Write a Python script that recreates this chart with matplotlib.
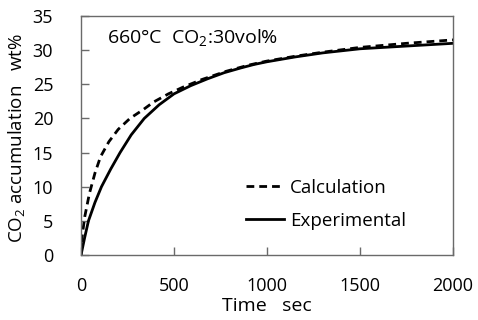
import matplotlib
matplotlib.use("Agg")
import matplotlib.pyplot as plt

# Data
t_exp = [0, 20, 40, 75, 110, 160, 210, 270, 340, 420, 500, 590, 680, 770, 860, 930,
         1000, 1150, 1300, 1500, 1750, 2000]
y_exp = [0, 2.6, 5.0, 7.7, 10.0, 12.6, 15.0, 17.6, 20.0, 22.0, 23.6, 24.8, 25.8, 26.7,
         27.4, 27.9, 28.3, 29.0, 29.6, 30.2, 30.6, 31.0]

t_calc = [0, 5, 20, 45, 75, 105, 150, 200, 263, 335, 390, 470, 550, 650, 780, 900,
          1000, 1150, 1300, 1500, 1750, 2000]
y_calc = [0, 2.5, 5.6, 9.0, 12.0, 14.4, 16.6, 18.4, 20.0, 21.3, 22.4, 23.6, 24.6, 25.7,
          26.9, 27.8, 28.4, 29.1, 29.7, 30.4, 31.0, 31.5]

x_ticks = [0, 500, 1000, 1500, 2000]
y_ticks = [0, 5, 10, 15, 20, 25, 30, 35]

plt.rcParams['font.family'] = ['Open Sans', 'DejaVu Sans']
plt.rcParams['mathtext.fontset'] = 'custom'
plt.rcParams['mathtext.rm'] = 'Open Sans'
plt.rcParams['mathtext.it'] = 'Open Sans'

fig = plt.figure(figsize=(4.78, 3.2), dpi=100)
ax = fig.add_axes([0.1695, 0.2031, 0.7782, 0.7469])

ax.plot(t_calc, y_calc, color='black', lw=2.0, linestyle=(0, (2.8, 1.8)), label='Calculation')
ax.plot(t_exp, y_exp, color='black', lw=2.0, label='Experimental')

ax.set_xlim(0, 2000)
ax.set_ylim(0, 35)
ax.set_xticks(x_ticks)
ax.set_yticks(y_ticks)

spine_c = '#6a6a6a'
for s in ax.spines.values():
    s.set_color(spine_c)
    s.set_linewidth(1.0)

ax.tick_params(axis='both', direction='in', length=6, width=1, color=spine_c,
               labelsize=13, labelcolor='black')
ax.tick_params(axis='x', pad=16)
ax.tick_params(axis='y', pad=20)

ax.set_xlabel('Time   sec', fontsize=14, labelpad=1)
ax.set_ylabel('CO$_2$ accumulation   wt%', fontsize=13.5)
ax.yaxis.set_label_coords(-0.145, 0.49)

ax.text(0.07, 0.91, '660\u00b0C  CO$_2$:30vol%', transform=ax.transAxes,
        fontsize=14, ha='left', va='center')

leg = ax.legend(loc='lower right', bbox_to_anchor=(0.92, 0.035), frameon=False,
                fontsize=13.5, handlelength=2.0, handletextpad=0.35, labelspacing=0.8)

fig.savefig('out.png', dpi=100)
